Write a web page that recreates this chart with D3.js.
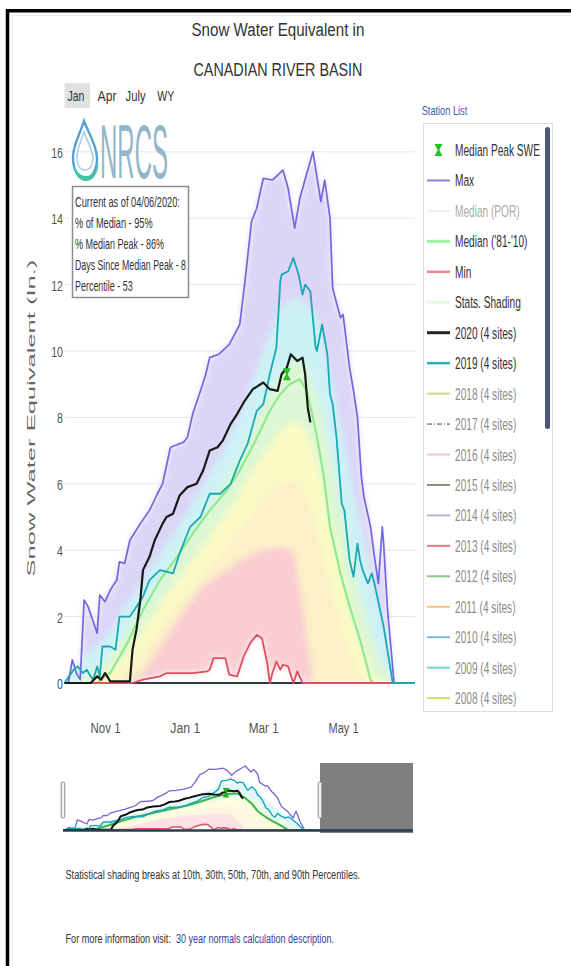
<!DOCTYPE html>
<html><head><meta charset="utf-8">
<script src="https://cdn.jsdelivr.net/npm/d3@7/dist/d3.min.js"></script>
<style>
html,body{margin:0;padding:0;background:#fff;overflow:hidden;}
svg{display:block;}
text{font-family:"Liberation Sans", Arial, sans-serif;}
</style></head><body>
<svg id="c" width="571" height="966"></svg>
<script>
// ---------------- DATA (day = days since Oct 1, 2019) ----------------
const maxDays = [0,3,6,9,12,15,18,25,27,31,35,40,42,46,50,58,65,71,75,81,91,94,98,104,108,111,118,126,134,138,143,147,152,159,167,171,176,180,186,190,196,199,203,205,211,213,218,221,224,227,229,234,237,240,243,244,247,252,365];
const maxSWE  = [0,0,0.7,0.3,0.1,2.5,2.3,1.5,2.65,2.45,2.8,3.1,3.65,3.6,4.3,4.8,5.2,5.7,6.0,7.1,7.25,7.4,8.1,8.8,9.3,9.8,9.9,10.2,10.8,12.1,13.9,14.3,15.2,15.15,15.45,14.9,13.7,14.6,15.45,16.0,14.5,15.15,14.0,11.9,11.0,11.1,9.5,8.8,8.0,6.2,5.6,4.7,3.8,3.0,4.7,4.2,2.2,0,0];

const y2019Days = [0,7,10,14,17,20,22,25,27,29,35,39,42,50,55,60,65,73,83,88,96,104,111,119,127,134,140,147,152,157,162,165,166,171,175,179,182,184,188,192,193,197,201,203,205,208,212,214,218,221,224,226,228,232,235,237,244,251,365];
const y2019SWE  = [0,0.4,0.5,0.3,0.4,0.2,0.1,0.5,0.2,1.1,1.1,1.0,2.0,2.0,2.3,2.6,3.1,3.4,3.3,3.9,4.7,5.0,5.7,5.7,6.0,6.7,7.2,8.2,8.4,9.3,10.1,12.1,12.3,12.4,12.8,12.3,11.7,12.0,11.8,10.1,10.0,10.8,9.9,8.7,8.4,7.4,5.4,5.2,3.7,3.2,4.2,3.7,3.4,3.0,3.3,3.0,1.7,0,0];

const y2020Days = [0,20,25,28,31,35,50,52,55,58,60,65,69,75,78,83,88,94,101,106,111,117,121,127,132,137,144,152,157,163,166,170,173,178,182,184,186,188];
const y2020SWE  = [0,0,0.2,0.1,0.3,0.05,0.05,1.0,1.6,2.5,3.4,3.8,4.3,4.8,5.0,5.1,5.65,5.9,6.0,6.4,7.0,7.1,7.3,7.8,8.1,8.45,8.85,9.05,8.85,8.8,9.3,9.5,9.9,9.7,9.8,9.3,8.3,7.85];

const medDays = [0,25,29,35,48,60,73,86,98,111,124,134,146,157,165,172,180,185,190,194,198,203,211,218,226,234,236,365];
const medSWE  = [0,0,0.15,0.3,1.2,2.2,3.1,3.8,4.5,5.2,5.8,6.4,7.3,8.2,8.7,9.0,9.15,8.8,8.0,7.2,6.3,4.7,3.3,2.3,1.3,0.1,0,0];

const minDays = [0,52,60,73,78,98,109,111,114,123,126,132,137,142,147,151,155,157,159,162,165,167,171,175,178,182,365];
const minSWE  = [0,0,0.1,0.2,0.3,0.3,0.35,0.4,0.75,0.75,0.25,0.2,0.8,1.2,1.45,1.35,0.6,0,0.3,0.65,0.4,0.55,0.5,0,0.35,0,0];

const pctDays = [0,15,30,45,60,75,90,105,120,135,150,165,175,180,185,190,195,205,215,225,235,245,252,365];
const p10 = [0,0,0,0,0.3,1.2,2.1,2.9,3.3,3.7,4.0,4.1,4.0,2.9,1.5,0,0,0,0,0,0,0,0,0];
const p30 = [0,0,0,0.3,0.9,1.7,2.5,3.2,3.9,4.6,5.4,6.0,6.1,5.9,5.6,5.0,4.2,2.6,1.2,0.3,0,0,0,0];
const p50 = [0,0,0.2,0.8,1.6,2.5,3.3,4.1,4.9,5.8,6.8,7.6,7.9,7.8,7.6,7.1,6.4,4.6,2.8,1.3,0.3,0,0,0];
const p70 = [0,0.2,0.6,1.4,2.3,3.2,4.1,5.0,5.9,6.9,8.2,9.3,9.7,9.7,9.5,9.0,8.4,6.6,4.6,2.8,1.4,0.4,0,0];
const p90 = [0,0.8,1.3,2.2,3.1,4.0,4.9,5.9,6.9,8.1,9.8,11.3,11.6,11.6,11.4,11.2,10.8,9.0,7.0,5.0,3.2,1.6,0,0];

const medianPeakDay = [170];
const medianPeakSWE = [9.3];

const yTicks = [0,2,4,6,8,10,12,14,16];
const xTickDates = ["2019-11-01","2020-01-01","2020-03-01","2020-05-01"];
const xTickLabels = ["Nov 1","Jan 1","Mar 1","May 1"];
const viewEndDay = 268;
const yearEndDay = 365;

const titleLines = ["Snow Water Equivalent in","CANADIAN RIVER BASIN"];
const rangeButtons = ["Jan","Apr","July","WY"];
const infoLines = ["Current as of 04/06/2020:","% of Median - 95%","% Median Peak - 86%","Days Since Median Peak - 8","Percentile - 53"];
const legendLabels = ["Median Peak SWE","Max","Median (POR)","Median ('81-'10)","Min","Stats. Shading","2020 (4 sites)","2019 (4 sites)","2018 (4 sites)","2017 (4 sites)","2016 (4 sites)","2015 (4 sites)","2014 (4 sites)","2013 (4 sites)","2012 (4 sites)","2011 (4 sites)","2010 (4 sites)","2009 (4 sites)","2008 (4 sites)"];
const yTitle = "Snow Water Equivalent (In.)";
const footer1 = "Statistical shading breaks at 10th, 30th, 50th, 70th, and 90th Percentiles.";
const footer2a = "For more information visit:";
const footer2b = "30 year normals calculation description.";

// ---------------- STYLES ----------------
const C = {max:"#7268dd", y2019:"#19a8b4", y2020:"#151a17", med:"#8fea8f", min:"#dd5060", peak:"#22c422"};
const bandColors = ["#dcd5f7","#cdf2f6","#ddf7d4","#fafac4","#fcf0c8","#f9cdd1","#ffffff"];
const legendStyle = [
  {marker:true, text:"#333"},
  {color:"#8b82e6", w:2, text:"#333"},
  {color:"#eeeeee", w:2, text:"#aaa"},
  {color:"#a2f0a2", w:3, text:"#333"},
  {color:"#f58090", w:2.5, text:"#333"},
  {color:"#eaf5ea", w:3, text:"#333"},
  {color:"#222", w:3, text:"#333"},
  {color:"#25b6b0", w:2.5, text:"#333"},
  {color:"#cfdc84", w:2, text:"#8c8c8c"},
  {color:"#444", w:1, dash:"5,2,1,2", text:"#8c8c8c"},
  {color:"#f7c2d2", w:2, text:"#8c8c8c"},
  {color:"#8d8d7e", w:2, text:"#8c8c8c"},
  {color:"#b5b5dc", w:2, text:"#8c8c8c"},
  {color:"#f07282", w:2, text:"#8c8c8c"},
  {color:"#8ac88a", w:2, text:"#8c8c8c"},
  {color:"#f8c282", w:2, text:"#8c8c8c"},
  {color:"#82b8d8", w:2, text:"#8c8c8c"},
  {color:"#72d6c8", w:2, text:"#8c8c8c"},
  {color:"#cadf74", w:2, text:"#8c8c8c"}
];

// ---------------- HELPERS ----------------
const start = new Date(Date.UTC(2019,9,1));
const day = d => d3.utcDay.offset(start, d);
const pts = (days, vals) => days.map((d,i)=>[d, vals[i]]);
// squeeze a text horizontally to width w, keeping its x/y anchor (left-start)
function fit(sel, w){
  const node = sel.node();
  const w0 = node.getComputedTextLength();
  const x0 = +sel.attr("x") || 0, y0 = +sel.attr("y") || 0;
  const prev = sel.attr("transform") || "";
  sel.attr("x",0).attr("y",0).attr("transform", `${prev} translate(${x0},${y0}) scale(${w/w0},1)`);
  return sel;
}

const svg = d3.select("#c");
const defs = svg.append("defs");
defs.append("clipPath").attr("id","plotClip").append("rect").attr("x",64.5).attr("y",130).attr("width",350.5).attr("height",553.5);
defs.append("clipPath").attr("id","lineClip").append("rect").attr("x",63).attr("y",130).attr("width",352).attr("height",558);
defs.append("clipPath").attr("id","navClip").append("rect").attr("x",63).attr("y",760).attr("width",350).attr("height",71);
const flt = defs.append("filter").attr("id","soft").attr("x","-10%").attr("y","-10%").attr("width","120%").attr("height","120%");
flt.append("feGaussianBlur").attr("stdDeviation",3);

// frame
svg.append("path").attr("d","M7.5,966 V10.75 H571").attr("fill","none").attr("stroke","#000").attr("stroke-width",3.5);
svg.append("path").attr("d","M12.5,966 V15.5 H571").attr("fill","none").attr("stroke","#ececec").attr("stroke-width",1);

// scales
const x = d3.scaleUtc().domain([day(0), day(viewEndDay)]).range([64.5, 415]);
const y = d3.scaleLinear().domain([0,16]).range([683, 151.8]);
const xn = d3.scaleUtc().domain([day(0), day(yearEndDay)]).range([63, 413]);
const yn = d3.scaleLinear().domain([0,16]).range([830, 766]);

// title
titleLines.forEach((t,i)=>{
  const w = i===0 ? 173 : 169;
  fit(svg.append("text").attr("x",278 - w/2).attr("y", i===0 ? 36 : 76).attr("font-size",19).attr("fill","#333").text(t), w);
});

// range buttons
svg.append("rect").attr("x",64.5).attr("y",83).attr("width",25.5).attr("height",25).attr("fill","#e1e1e1");
const btnX = [67.4, 97.6, 125.6, 157.3], btnW = [17,19,20,17];
rangeButtons.forEach((t,i)=>{
  fit(svg.append("text").attr("x",btnX[i]).attr("y",100.5).attr("font-size",15).attr("fill","#333").text(t), btnW[i]);
});

// gridlines
svg.append("g").selectAll("line").data(yTicks.filter(v=>v>0)).join("line")
  .attr("x1",64.5).attr("x2",415).attr("y1",d=>y(d)).attr("y2",d=>y(d))
  .attr("stroke","#e6e6e6").attr("stroke-width",1);

// stats shading (layered areas from 0 up)
const layers = [pts(maxDays,maxSWE), pts(pctDays,p90), pts(pctDays,p70), pts(pctDays,p50), pts(pctDays,p30), pts(pctDays,p10), pts(minDays,minSWE)];
const area = d3.area().x(d=>x(day(d[0]))).y0(y(0)).y1(d=>y(d[1]));
const shade = svg.append("g").attr("clip-path","url(#plotClip)").append("g").attr("filter","url(#soft)");
layers.forEach((L,i)=> shade.append("path").attr("d", area(L)).attr("fill", bandColors[i]));

// baseline
svg.append("line").attr("x1",64).attr("x2",415).attr("y1",y(0)).attr("y2",y(0)).attr("stroke","#2b3a44").attr("stroke-width",1.8);

// lines
const line = d3.line().x(d=>x(day(d[0]))).y(d=>y(d[1]));
const gl = svg.append("g").attr("clip-path","url(#lineClip)").attr("fill","none").attr("stroke-linejoin","round");
gl.append("path").attr("d", line(pts(maxDays,maxSWE))).attr("stroke",C.max).attr("stroke-width",1.7);
gl.append("path").attr("d", line(pts(medDays,medSWE))).attr("stroke",C.med).attr("stroke-width",2.2);
gl.append("path").attr("d", line(pts(minDays,minSWE))).attr("stroke",C.min).attr("stroke-width",1.8);
gl.append("path").attr("d", line(pts(y2019Days,y2019SWE))).attr("stroke",C.y2019).attr("stroke-width",1.8);
gl.append("path").attr("d", line(pts(y2020Days,y2020SWE))).attr("stroke",C.y2020).attr("stroke-width",2.2);

const peakPath = "M-4,-6 L4,-6 L0.8,0 L4,6 L-4,6 L-0.8,0 Z";
svg.append("g").selectAll("path").data(medianPeakDay).join("path")
  .attr("transform",(d,i)=>`translate(${x(day(d))},${y(medianPeakSWE[i])})`)
  .attr("d",peakPath).attr("fill",C.peak);

// y axis
const gy = svg.append("g").attr("transform","translate(63,0)")
  .call(d3.axisLeft(y).tickValues(yTicks).tickSize(0).tickPadding(0));
gy.select(".domain").remove();
gy.attr("font-family",null).attr("font-size",null);
gy.selectAll("text").each(function(d){
  const w = String(d).length*5.9;
  const t = d3.select(this).attr("text-anchor","start").attr("x",-w).attr("dy","0.36em")
    .attr("font-size",15).attr("fill","#555");
  fit(t, w);
});

// x axis
const gx = svg.append("g").attr("transform","translate(0,722)")
  .call(d3.axisBottom(x).tickValues(xTickDates.map(s=>new Date(s+"T00:00:00Z"))).tickFormat((d,i)=>xTickLabels[i]).tickSize(0).tickPadding(0));
gx.select(".domain").remove();
gx.attr("font-family",null).attr("font-size",null);
gx.selectAll("text").each(function(){
  const t = d3.select(this).attr("text-anchor","start").attr("x",-15).attr("y",0).attr("dy","0.72em").attr("font-size",15).attr("fill","#555");
  fit(t, 30);
});

// y title
fit(svg.append("text").attr("transform","translate(35,418) scale(0.64,1) rotate(-90)")
  .attr("text-anchor","start").attr("x",-158.5).attr("y",0)
  .attr("font-family","DejaVu Sans").attr("font-size",18).attr("fill","#666").text(yTitle), 317);

// NRCS logo
const logo = svg.append("g");
logo.append("path").attr("d","M84,121 C80,134 73,145 73,157 C73,170 78,178 85,178 C92,178 97,170 97,158 C97,146 89,134 84,121 Z")
  .attr("fill","none").attr("stroke","#5a9fd4").attr("stroke-width",2.4);
logo.append("path").attr("d","M84,132 C81,141 77,149 77,157 C77,165 80,170 85,170 C90,170 93,165 93,158 C93,150 87,141 84,132 Z")
  .attr("fill","none").attr("stroke","#a8cdea").attr("stroke-width",1.6);
logo.append("path").attr("d","M72,160 C74,176 80,181 86,181 C93,181 98,174 99,162 C96,172 92,176 86,176 C80,176 75,171 72,160 Z")
  .attr("fill","#42c4a4");
fit(logo.append("text").attr("x",100).attr("y",178).attr("font-size",76).attr("fill","#93b7c8").text("NRCS"), 68);

// info box
svg.append("rect").attr("x",72.5).attr("y",186.5).attr("width",116).attr("height",111)
  .attr("fill","#fff").attr("stroke","#8c8c8c").attr("stroke-width",1.5);
const infoW = [105,77.7,89,111,57.7];
infoLines.forEach((t,i)=>{
  fit(svg.append("text").attr("x",75).attr("y",206.5+i*21).attr("font-size",14).attr("fill","#333").text(t), infoW[i]);
});

// legend
fit(svg.append("text").attr("x",421.7).attr("y",114.5).attr("font-size",13.5).attr("fill","#3a5db0").text("Station List"), 45.6);
svg.append("rect").attr("x",423.5).attr("y",123.5).attr("width",129).attr("height",588)
  .attr("fill","#fff").attr("stroke","#dcdcdc");
const lg = svg.append("g");
const items = lg.selectAll("g").data(legendLabels).join("g")
  .attr("transform",(d,i)=>`translate(0,${150 + i*30.45})`);
items.each(function(d,i){
  const g = d3.select(this), s = legendStyle[i];
  if (s.marker) g.append("path").attr("d",peakPath).attr("transform","translate(438.5,0)").attr("fill",C.peak);
  else g.append("line").attr("x1",427).attr("x2",450).attr("stroke",s.color).attr("stroke-width",s.w).attr("stroke-dasharray",s.dash||null);
});
const ltexts = items.append("text").attr("x",455).attr("y",6).attr("font-size",16.5)
  .attr("fill",(d,i)=>legendStyle[i].text).text(d=>d);
const f = 85 / ltexts.nodes()[0].getComputedTextLength();
ltexts.each(function(){ fit(d3.select(this), this.getComputedTextLength()*f); });
svg.append("rect").attr("x",545).attr("y",127).attr("width",5).attr("height",302).attr("rx",2.5).attr("fill","#4a5777");

// navigator
const areaN = d3.area().x(d=>xn(day(d[0]))).y0(yn(0)).y1(d=>yn(d[1]));
const lineN = d3.line().x(d=>xn(day(d[0]))).y(d=>yn(d[1]));
const nav = svg.append("g").attr("clip-path","url(#navClip)");
const navShade = nav.append("g").attr("opacity",0.55);
layers.forEach((L,i)=> navShade.append("path").attr("d", areaN(L)).attr("fill", i===0 ? "#ffffff" : bandColors[i]));
const nl = nav.append("g").attr("fill","none").attr("stroke-linejoin","round");
nl.append("path").attr("d", lineN(pts(maxDays,maxSWE))).attr("stroke",C.max).attr("stroke-width",1.3);
nl.append("path").attr("d", lineN(pts(medDays,medSWE))).attr("stroke","#3cb34e").attr("stroke-width",2);
nl.append("path").attr("d", lineN(pts(minDays,minSWE))).attr("stroke",C.min).attr("stroke-width",1.5);
nl.append("path").attr("d", lineN(pts(y2019Days,y2019SWE))).attr("stroke",C.y2019).attr("stroke-width",1.4);
nl.append("path").attr("d", lineN(pts(y2020Days,y2020SWE))).attr("stroke","#111").attr("stroke-width",2);
nav.selectAll(".pk").data(medianPeakDay).join("path").attr("class","pk")
  .attr("transform",(d,i)=>`translate(${xn(day(d))},${yn(medianPeakSWE[i])}) scale(0.8)`)
  .attr("d",peakPath).attr("fill","#1fb01f");
svg.append("rect").attr("x",xn(day(viewEndDay))).attr("y",763).attr("width",413 - xn(day(viewEndDay))).attr("height",70).attr("fill","#7e7e7e");
svg.append("line").attr("x1",63).attr("x2",413).attr("y1",yn(0)+0.5).attr("y2",yn(0)+0.5).attr("stroke","#24404f").attr("stroke-width",2.5);
[0, viewEndDay].forEach(d=>{
  svg.append("rect").attr("x",xn(day(d))-1.8).attr("y",782).attr("width",3.6).attr("height",36).attr("rx",1.5)
    .attr("fill","#f4f4f4").attr("stroke","#8a8a8a").attr("stroke-width",1);
});

// footer
fit(svg.append("text").attr("x",65.5).attr("y",879).attr("font-size",13.5).attr("fill","#333").text(footer1), 295);
fit(svg.append("text").attr("x",65.5).attr("y",943).attr("font-size",13.5).attr("fill","#333").text(footer2a), 105.5);
fit(svg.append("text").attr("x",176).attr("y",943).attr("font-size",13.5).attr("fill","#3b3ba3").text(footer2b), 158);
</script></body></html>
